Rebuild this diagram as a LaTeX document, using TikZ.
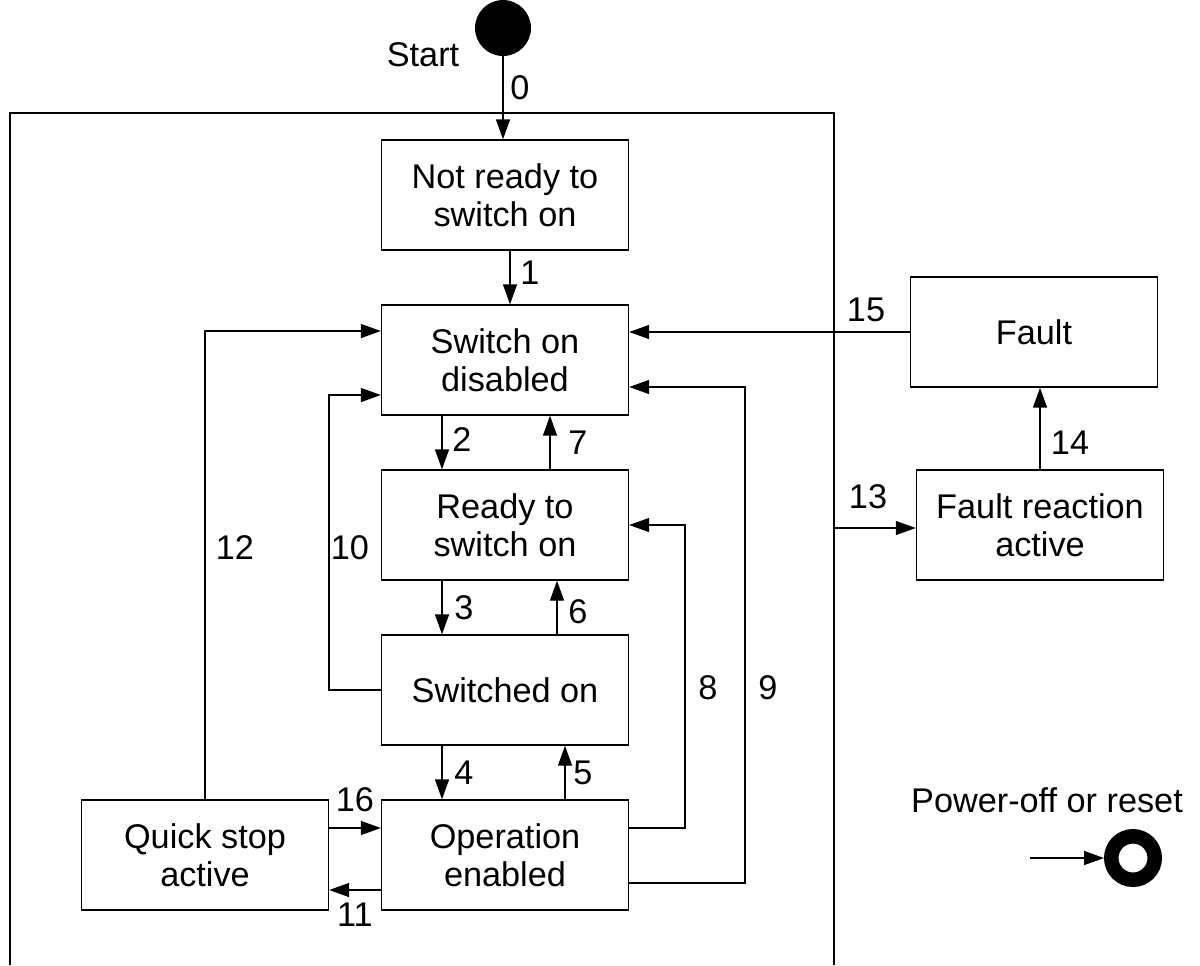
\documentclass[tikz,border=0pt]{standalone}
\usepackage{fontspec}
\setmainfont{Liberation Sans}
\usetikzlibrary{arrows.meta,calc,positioning}
\tikzset{
  state/.style={draw,line width=0.8pt,minimum width=4.94cm,minimum height=2.2cm,inner sep=0pt,
    align=center,font=\fontsize{19.5}{21.6}\selectfont},
  trans/.style={line width=0.8pt,-{Triangle[length=0.4cm,width=0.28cm]}},
  num/.style={font=\fontsize{19.5}{21.6}\selectfont},
  superstate/.style={line width=0.8pt},
}
\begin{document}
\begin{tikzpicture}[x=0.02cm,y=-0.02cm]
  \useasboundingbox (0,0) rectangle (1200,965);
  % outer device frame
  \draw[superstate] (10,965) |- (834,113) -- (834,965);
  % states
  \node[circle,fill,minimum size=1.12cm,inner sep=0pt] (start) at (503,28) {};
  \node[num] (startlbl) at (423,55) {Start};
  \node[state] (nr) at (505,195) {Not ready to\\switch on};
  \node[state] (sod) at (505,360) {Switch on\\disabled};
  \node[state] (rtso) at (505,525) {Ready to\\switch on};
  \node[state] (swo) at (505,690) {Switched on};
  \node[state] (oe) at (505,855) {Operation\\enabled};
  \node[state] (qs) at (205,855) {Quick stop\\active};
  \node[state] (fault) at (1034,332) {Fault};
  \node[state] (fra) at (1040,525) {Fault reaction\\active};
  % transitions
  \draw[trans] (start.south) -- (start.south |- nr.north);
  \draw[trans] ($(nr.south)+(5,0)$) -- ($(sod.north)+(5,0)$);
  \draw[trans] ($(sod.south)+(-63,0)$) -- ($(rtso.north)+(-63,0)$);
  \draw[trans] ($(rtso.north)+(45,0)$) -- ($(sod.south)+(45,0)$);
  \draw[trans] ($(rtso.south)+(-63,0)$) -- ($(swo.north)+(-63,0)$);
  \draw[trans] ($(swo.north)+(52,0)$) -- ($(rtso.south)+(52,0)$);
  \draw[trans] ($(swo.south)+(-63,0)$) -- ($(oe.north)+(-63,0)$);
  \draw[trans] ($(oe.north)+(60,0)$) -- ($(swo.south)+(60,0)$);
  \draw[trans] (qs.north) |- ($(sod.west)+(0,-29)$);
  \draw[trans] (swo.west) -- ++(-52,0) |- ($(sod.west)+(0,35)$);
  \draw[trans] ($(oe.east)+(0,-27)$) -- ++(56,0) |- (rtso.east);
  \draw[trans] ($(oe.east)+(0,28)$) -- ++(116,0) |- ($(sod.east)+(0,27)$);
  \draw[trans] ($(qs.east)+(0,-27)$) -- ($(oe.west)+(0,-27)$);
  \draw[trans] ($(oe.west)+(0,35)$) -- ($(qs.east)+(0,35)$);
  \draw[trans] (fault.west) -- (fault.west -| sod.east);
  \draw[trans] (fra.north) -- (fra.north |- fault.south);
  \coordinate (f13) at (834,528);
  \draw[trans] (f13) -- (f13 -| fra.west);
  % transition numbers
  \node[num] at (520,88) {0};
  \node[num] at (530,273) {1};
  \node[num] at (462,440) {2};
  \node[num] at (578,443) {7};
  \node[num] at (464,608) {3};
  \node[num] at (578,612) {6};
  \node[num] at (464,773) {4};
  \node[num] at (583,773) {5};
  \node[num] at (235,548) {12};
  \node[num] at (350,548) {10};
  \node[num] at (708,688) {8};
  \node[num] at (768,688) {9};
  \node[num] at (355,800) {16};
  \node[num] at (355,915) {11};
  \node[num] at (866,310) {15};
  \node[num] at (1070,443) {14};
  \node[num] at (868,497) {13};
  % power-off
  \node[num] (pwr) at (1047,800) {Power-off or reset};
  \node[circle,draw,line width=0.29cm,minimum size=0.87cm,inner sep=0pt] (stop) at (1133,858) {};
  \coordinate (pin) at (1030,858);
  \draw[trans] (pin) -- ($(stop.center)+(-29,0)$);
\end{tikzpicture}
\end{document}
